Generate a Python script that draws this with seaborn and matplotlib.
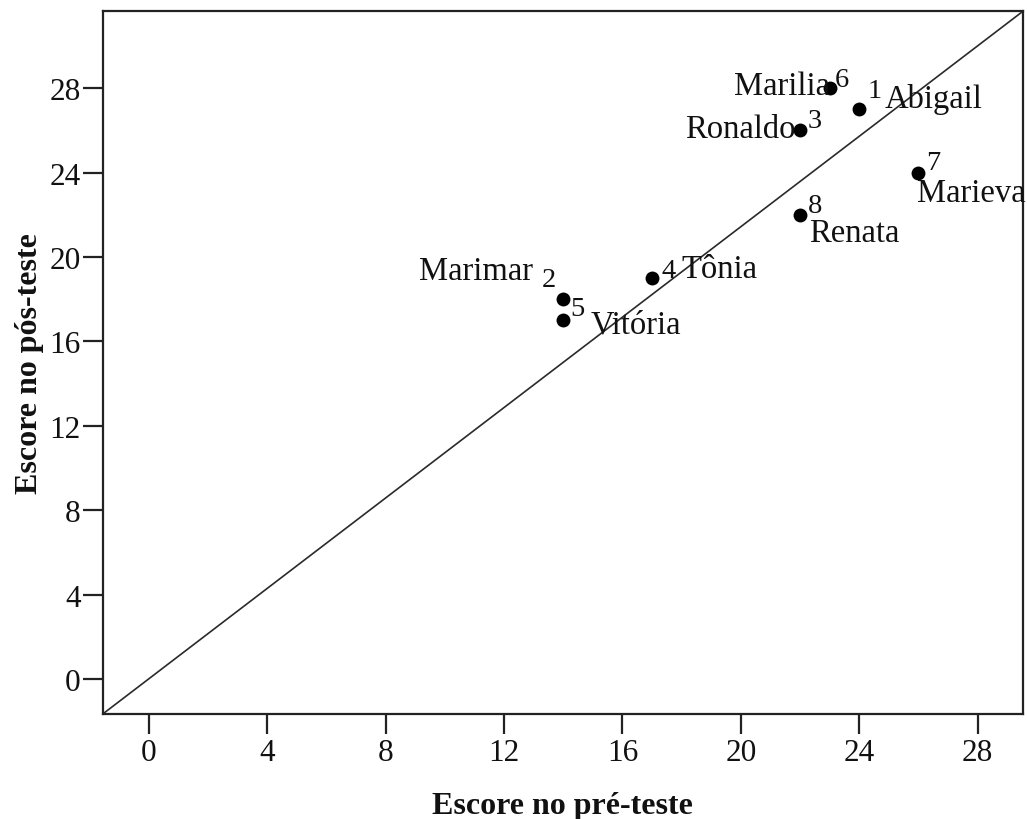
import matplotlib
matplotlib.use("Agg")
import matplotlib.pyplot as plt
import seaborn as sns
import pandas as pd

# ---- data ----
ids = [1, 2, 3, 4, 5, 6, 7, 8]
names = ["Abigail", "Marimar", "Ronaldo", "Tônia", "Vitória", "Marilia", "Marieva", "Renata"]
pre_scores = [24, 14, 22, 17, 14, 23, 26, 22]
post_scores = [27, 18, 26, 19, 17, 28, 24, 22]
tick_values = [0, 4, 8, 12, 16, 20, 24, 28]
x_label = "Escore no pré-teste"
y_label = "Escore no pós-teste"

df = pd.DataFrame({"id": ids, "name": names, "pre": pre_scores, "post": post_scores})

# label placement (pixel offsets from each point: dx, dy, ha)
num_offsets = {1: (8, 12, "left"), 2: (-7, 13, "right"), 3: (8, 3, "left"),
               4: (9, 1, "left"), 5: (7, 5, "left"), 6: (5, 2, "left"),
               7: (8, 4, "left"), 8: (8, 3, "left")}
name_offsets = {1: (25, 2, "left"), 2: (-30, 20, "right"), 3: (-4, -7, "right"),
                4: (29, 1, "left"), 5: (27, -12, "left"), 6: (0, -6, "right"),
                7: (-1, -28, "left"), 8: (9, -26, "left")}

sns.set_style("ticks")
plt.rcParams["font.family"] = ["Liberation Serif", "DejaVu Serif"]

fig = plt.figure(figsize=(10.27, 8.2), dpi=100)
ax = fig.add_axes([0.1, 0.128, 0.896, 0.857])

ax.plot([0, 1], [0, 1], transform=ax.transAxes, color="#2a2a2a", lw=1.2, zorder=1)

sns.scatterplot(data=df, x="pre", y="post", color="black", s=100,
                edgecolor="black", linewidth=0, ax=ax, zorder=3, legend=False)

for _, r in df.iterrows():
    dx, dy, ha = num_offsets[r["id"]]
    ax.annotate(str(r["id"]), (r["pre"], r["post"]), xytext=(dx, dy),
                textcoords="offset pixels", ha=ha, va="baseline", fontsize=20.5,
                color="#111111")
    dx, dy, ha = name_offsets[r["id"]]
    ax.annotate(r["name"], (r["pre"], r["post"]), xytext=(dx, dy),
                textcoords="offset pixels", ha=ha, va="baseline", fontsize=23.5,
                color="#111111")

ax.set_xlim(-1.56, 29.53)
ax.set_ylim(-1.66, 31.65)
ax.set_xticks(tick_values)
ax.set_yticks(tick_values)
ax.tick_params(axis="both", direction="out", length=14.4, width=1.6,
               labelsize=22.5, color="#222222", labelcolor="#111111")
ax.tick_params(axis="x", pad=3)
ax.tick_params(axis="y", pad=1.5)

for sp in ax.spines.values():
    sp.set_visible(True)
    sp.set_linewidth(1.6)
    sp.set_color("#222222")

ax.set_xlabel(x_label, fontsize=23, fontweight="bold", labelpad=17, color="#111111")
ax.set_ylabel(y_label, fontsize=23, fontweight="bold", labelpad=4, color="#111111")

fig.savefig("out.png", dpi=100)
